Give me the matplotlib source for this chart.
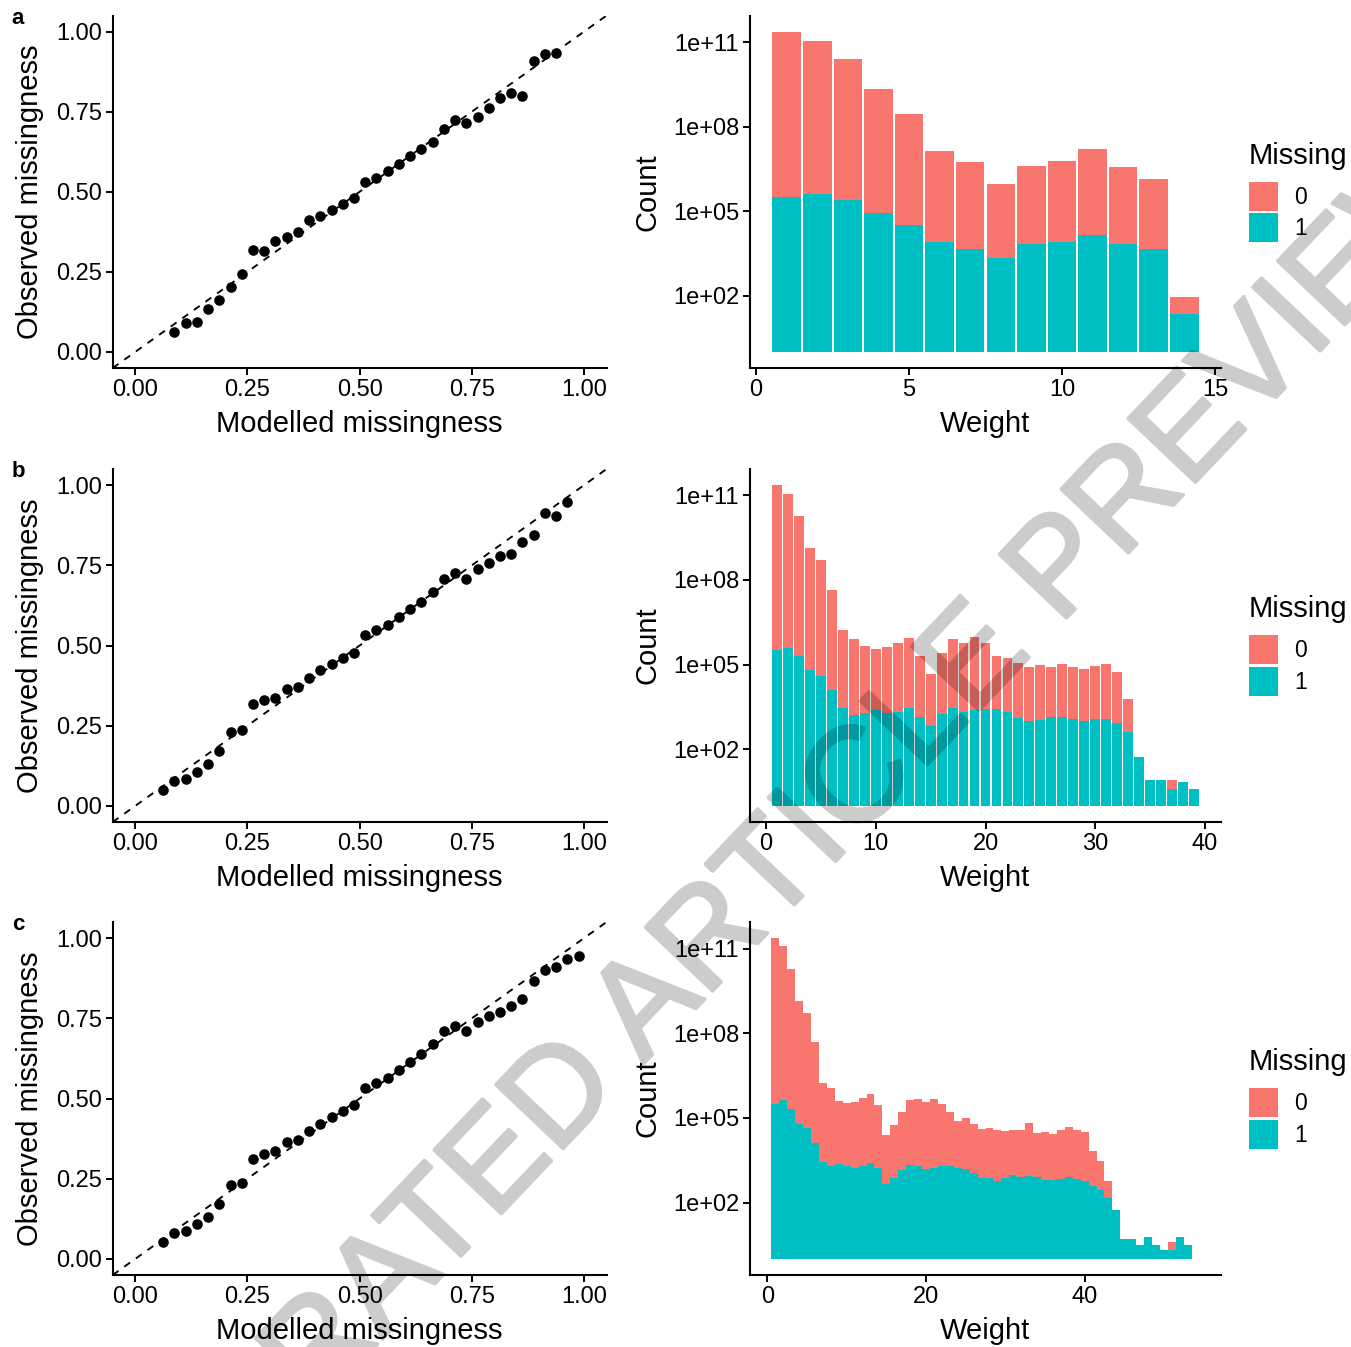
import numpy as np
import matplotlib
matplotlib.use("Agg")
import matplotlib.pyplot as plt
import matplotlib.patheffects as pe
from matplotlib.patches import Patch
from matplotlib.ticker import NullLocator

plt.rcParams['font.family'] = ['Liberation Sans', 'DejaVu Sans']

SALMON = '#F8766D'
TEAL = '#00BFC4'

# calibration: modelled vs observed missingness
a_modelled = [0.0875, 0.1125, 0.1375, 0.1625, 0.1875, 0.2125, 0.2375, 0.2625, 0.2875, 0.3125,
              0.3375, 0.3625, 0.3875, 0.4125, 0.4375, 0.4625, 0.4875, 0.5125, 0.5375, 0.5625,
              0.5875, 0.6125, 0.6375, 0.6625, 0.6875, 0.7125, 0.7375, 0.7625, 0.7875, 0.8125,
              0.8375, 0.8625, 0.8875, 0.9125, 0.9375]
a_observed = [0.063, 0.089, 0.092, 0.135, 0.161, 0.203, 0.242, 0.319, 0.315, 0.345,
              0.359, 0.373, 0.411, 0.425, 0.443, 0.463, 0.480, 0.530, 0.543, 0.564,
              0.588, 0.613, 0.632, 0.656, 0.697, 0.724, 0.715, 0.734, 0.761, 0.794,
              0.809, 0.799, 0.908, 0.929, 0.932]

b_modelled = [0.0625, 0.0875, 0.1125, 0.1375, 0.1625, 0.1875, 0.2125, 0.2375, 0.2625, 0.2875,
              0.3125, 0.3375, 0.3625, 0.3875, 0.4125, 0.4375, 0.4625, 0.4875, 0.5125, 0.5375,
              0.5625, 0.5875, 0.6125, 0.6375, 0.6625, 0.6875, 0.7125, 0.7375, 0.7625, 0.7875,
              0.8125, 0.8375, 0.8625, 0.8875, 0.9125, 0.9375, 0.9625]
b_observed = [0.051, 0.078, 0.085, 0.107, 0.130, 0.172, 0.231, 0.238, 0.317, 0.331,
              0.336, 0.363, 0.372, 0.400, 0.423, 0.443, 0.462, 0.478, 0.534, 0.548,
              0.565, 0.589, 0.615, 0.637, 0.668, 0.707, 0.726, 0.707, 0.738, 0.756,
              0.778, 0.784, 0.821, 0.843, 0.912, 0.903, 0.946]

c_modelled = [0.0625, 0.0875, 0.1125, 0.1375, 0.1625, 0.1875, 0.2125, 0.2375, 0.2625, 0.2875,
              0.3125, 0.3375, 0.3625, 0.3875, 0.4125, 0.4375, 0.4625, 0.4875, 0.5125, 0.5375,
              0.5625, 0.5875, 0.6125, 0.6375, 0.6625, 0.6875, 0.7125, 0.7375, 0.7625, 0.7875,
              0.8125, 0.8375, 0.8625, 0.8875, 0.9125, 0.9375, 0.9625, 0.9875]
c_observed = [0.052, 0.081, 0.086, 0.109, 0.131, 0.170, 0.230, 0.237, 0.313, 0.328,
              0.337, 0.363, 0.370, 0.398, 0.422, 0.441, 0.461, 0.479, 0.534, 0.547,
              0.564, 0.588, 0.614, 0.638, 0.670, 0.709, 0.726, 0.710, 0.737, 0.756,
              0.770, 0.788, 0.811, 0.866, 0.899, 0.911, 0.934, 0.945]

# weight histograms, counts per weight for Missing = 1 and Missing = 0
a_weight = list(range(1, 15))
a_missing1 = [3.2e5, 4.1e5, 2.5e5, 8.7e4, 3.2e4, 8.1e3, 4.5e3, 2.2e3, 6.8e3, 8.1e3,
              1.4e4, 7.1e3, 4.5e3, 23]
a_missing0 = [7.6e5, 2.8e5, 1.0e5, 2.6e4, 9.1e3, 1.7e3, 1.3e3, 410, 580, 780,
              1.2e3, 510, 320, 4]

b_weight = list(range(1, 40))
b_missing1 = [3.2e5, 4.0e5, 2.1e5, 6.3e4, 4.1e4, 1.3e4, 3.0e3, 1.6e3, 1.9e3, 2.5e3,
              1.9e3, 2.1e3, 3.0e3, 1.35e3, 660, 1.8e3, 2.9e3, 2.1e3, 2.5e3, 2.6e3,
              2.6e3, 2.2e3, 1.3e3, 980, 1.1e3, 1.35e3, 1.35e3, 1.15e3, 980, 1.15e3,
              1.15e3, 830, 410, 52, 8, 8, 4, 7, 4]
b_missing0 = [7.1e5, 2.8e5, 8.9e4, 2.2e4, 1.26e4, 3.4e3, 575, 525, 234, 138,
              214, 288, 302, 145, 68, 138, 269, 269, 372, 234,
              76, 81, 85, 87, 91, 63, 81, 74, 69, 81,
              95, 69, 14.5, 1, 1, 1, 2, 1, 1]

c_weight = list(range(1, 55))
c_missing1 = [3.1e5, 4.3e5, 2.1e5, 6.0e4, 4.2e4, 1.3e4, 2.8e3, 2.0e3, 2.3e3, 1.9e3,
              1.7e3, 1.9e3, 2.6e3, 1.7e3, 460, 740, 1.4e3, 2.2e3, 2.0e3, 1.6e3,
              1.7e3, 1.9e3, 2.0e3, 1.7e3, 1.6e3, 1.1e3, 740, 740, 590, 740,
              980, 810, 870, 810, 630, 630, 690, 810, 690, 590,
              390, 280, 150, 55, 5, 5, 3, 6, 3, 2,
              2, 6, 3, 1]
c_missing0 = [7.6e5, 2.8e5, 8.9e4, 2.3e4, 1.2e4, 3.7e3, 620, 580, 170, 170,
              210, 270, 270, 170, 54, 76, 120, 195, 230, 230,
              270, 165, 81, 46, 63, 56, 55, 59, 63, 47,
              38, 46, 76, 36, 50, 43, 54, 59, 54, 54,
              17, 11, 4, 1, 1, 1, 1, 1, 1, 1,
              2, 1, 1, 1]

W, H = 1351, 1347
fig = plt.figure(figsize=(W / 100, H / 100), dpi=100)


def px_axes(left, top, right, bottom):
    return fig.add_axes([left / W, 1 - bottom / H, (right - left) / W, (bottom - top) / H])


def style_axes(ax):
    for s in ['top', 'right']:
        ax.spines[s].set_visible(False)
    for s in ['left', 'bottom']:
        ax.spines[s].set_linewidth(1.5)
    ax.tick_params(length=4.8, width=1.4, pad=3, labelsize=17, color='black')


def calib_panel(ax, modelled, observed):
    ax.plot([-0.05, 1.05], [-0.05, 1.05], color='black', lw=1.35, ls=(0, (3.8, 3.8)))
    ax.scatter(modelled, observed, s=58, color='black', linewidths=0, zorder=3)
    ax.set_xlim(-0.05, 1.05)
    ax.set_ylim(-0.05, 1.05)
    ticks = [0, 0.25, 0.5, 0.75, 1.0]
    ax.set_xticks(ticks)
    ax.set_yticks(ticks)
    ax.set_xticklabels([f"{t:.2f}" for t in ticks])
    ax.set_yticklabels([f"{t:.2f}" for t in ticks])
    ax.set_xlabel("Modelled missingness", fontsize=21, labelpad=6.5)
    ax.set_ylabel("Observed missingness", fontsize=21, labelpad=8.5)
    style_axes(ax)


def hist_panel(ax, weight, missing1, missing0, width, xticks):
    n1 = np.array(missing1, dtype=float)
    n0 = np.array(missing0, dtype=float)
    # ggplot stacks the counts after the log10 transform
    top = n1 * n0
    ax.bar(weight, n1 - 1, bottom=1, width=width, color=TEAL, linewidth=0)
    ax.bar(weight, top - n1, bottom=n1, width=width, color=SALMON, linewidth=0)
    ax.set_yscale('log')
    m = np.log10(top.max())
    ax.set_ylim(10 ** (-0.05 * m), 10 ** (1.05 * m))
    lo, hi = min(weight) - 0.5, max(weight) + 0.5
    pad = 0.05 * (hi - lo)
    ax.set_xlim(lo - pad, hi + pad)
    ax.set_yticks([1e2, 1e5, 1e8, 1e11])
    ax.set_yticklabels(['1e+02', '1e+05', '1e+08', '1e+11'])
    ax.yaxis.set_minor_locator(NullLocator())
    ax.set_xticks(xticks)
    ax.set_xticklabels([str(t) for t in xticks])
    ax.set_xlabel("Weight", fontsize=21, labelpad=6.5)
    ax.set_ylabel("Count", fontsize=21, labelpad=8.5)
    style_axes(ax)
    handles = [Patch(facecolor=SALMON, label='0'), Patch(facecolor=TEAL, label='1')]
    box = ax.get_position()
    yc = box.y0 + box.height / 2
    leg = ax.legend(handles=handles, title='Missing', loc='center left',
                    bbox_to_anchor=(1249 / W, yc), bbox_transform=fig.transFigure,
                    frameon=False, fontsize=16.5, title_fontsize=21,
                    handlelength=1.27, handleheight=1.57, handletextpad=0.7,
                    labelspacing=0.1, borderpad=0, borderaxespad=0, alignment='left')
    leg._legend_box.sep = 8.5


tops = [15.5, 469, 922]
bottoms = [368, 822, 1275]
calib = [(a_modelled, a_observed), (b_modelled, b_observed), (c_modelled, c_observed)]
hists = [(a_weight, a_missing1, a_missing0, 0.93, [0, 5, 10, 15]),
         (b_weight, b_missing1, b_missing0, 0.9, [0, 10, 20, 30, 40]),
         (c_weight, c_missing1, c_missing0, 1.0, [0, 20, 40])]
letters = ['a', 'b', 'c']

for i in range(3):
    axl = px_axes(112.7, tops[i], 606.6, bottoms[i])
    calib_panel(axl, *calib[i])
    axr = px_axes(750, tops[i], 1221, bottoms[i])
    hist_panel(axr, *hists[i])
    fig.text(18 / W, 1 - (tops[i] + 3) / H, letters[i], fontsize=16, fontweight='bold',
             ha='center', va='center')


def fade(im, dpi):
    # whole watermark at one opacity, so the thickening stroke does not double up
    im = im.copy()
    im[..., 3] *= 0.2
    return im, 0, 0


wm = fig.text(690 / W, 1 - 964 / H, "ACCELERATED ARTICLE PREVIEW", rotation=46.5,
              rotation_mode='anchor', ha='center', va='center', fontsize=97,
              color='black', zorder=10,
              path_effects=[pe.Stroke(linewidth=2.5, foreground='black'), pe.Normal()])
wm.set_agg_filter(fade)

fig.savefig("out.png", dpi=100)
